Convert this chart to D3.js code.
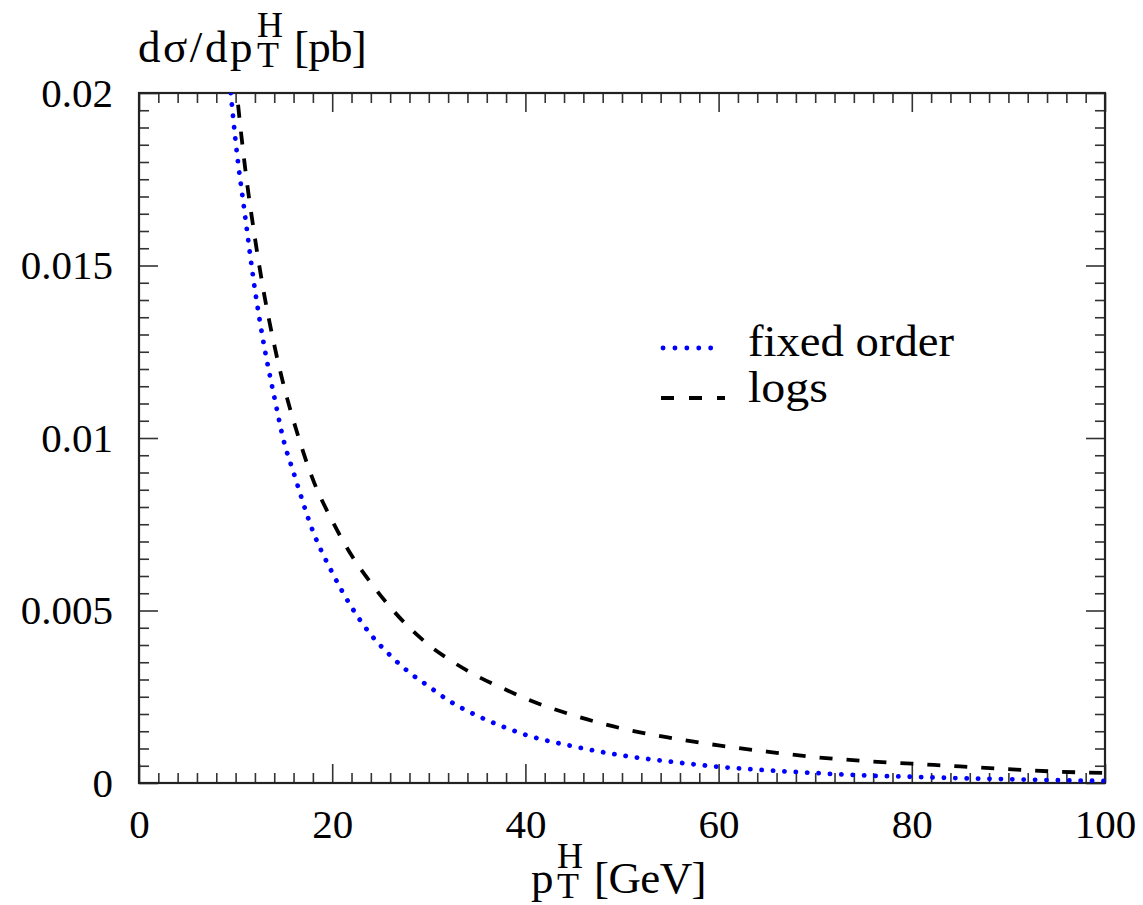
<!DOCTYPE html>
<html><head><meta charset="utf-8">
<script src="https://cdn.jsdelivr.net/npm/d3@7/dist/d3.min.js"></script>
<style>
body{margin:0;background:#fff;}
svg{display:block;}
text{font-family:"Liberation Serif","Times New Roman",serif;fill:#000;}
</style>
</head><body>
<svg id="c" width="1143" height="905"></svg>
<script>
// ---- data ----
const pT = [9.5,10,11,12,13,14,15,16,18,20,22,24,26,28,30,32,35,38,40,45,50,55,60,65,70,75,80,85,90,95,100];
const fixedOrder = [0.0200,0.0186,0.0164,0.0143,0.0126,0.0112,0.0099,0.0090,0.0073,0.0061,0.0051,0.0043,0.0037,0.0032,0.0028,0.0024,0.00195,0.0016,0.0014,0.00106,0.00080,0.00062,0.00047,0.00037,0.00029,0.00022,0.00018,0.00014,0.00011,0.00008,0.00006];
const logs = [0.0220,0.0204,0.0178,0.0158,0.0141,0.0127,0.0115,0.0105,0.0088,0.0076,0.0066,0.0058,0.0051,0.0045,0.0040,0.0036,0.0031,0.0027,0.00245,0.00196,0.00158,0.00131,0.00109,0.00091,0.00075,0.00064,0.00056,0.00048,0.00040,0.00033,0.00029];
const seriesNames = ["fixed order","logs"];
const xTicks = [0,20,40,60,80,100];
const xTickLabels = ["0","20","40","60","80","100"];
const yTicks = [0,0.005,0.01,0.015,0.02];
const yTickLabels = ["0","0.005","0.01","0.015","0.02"];

// ---- layout ----
const L=139, R=1105, T=93, B=783;
const svg = d3.select("#c");
const x = d3.scaleLinear().domain([0,100]).range([L,R]);
const y = d3.scaleLinear().domain([0,0.02]).range([B,T]);

const xMinor = d3.range(0,101,2).filter(v=>v%20!==0);
const yMinor = d3.range(0,41,1).map(i=>i*0.0005).filter((v,i)=>i%10!==0);

function styleAxis(g){
  g.select(".domain").remove();
  g.selectAll(".tick line").attr("stroke","#333").attr("stroke-width",1.6);
  g.selectAll("text").style("font-family",'"Liberation Serif","Times New Roman",serif').style("font-size","41px").attr("fill","#000");
}
// bottom
svg.append("g").attr("transform",`translate(0,${B})`)
  .call(d3.axisBottom(x).tickValues(xTicks).tickSize(-19).tickPadding(26).tickFormat((d,i)=>xTickLabels[i]))
  .call(styleAxis);
svg.append("g").attr("transform",`translate(0,${B})`)
  .call(d3.axisBottom(x).tickValues(xMinor).tickSize(-10).tickFormat(""))
  .call(styleAxis);
// top
svg.append("g").attr("transform",`translate(0,${T})`)
  .call(d3.axisTop(x).tickValues(xTicks).tickSize(-19).tickFormat(""))
  .call(styleAxis);
svg.append("g").attr("transform",`translate(0,${T})`)
  .call(d3.axisTop(x).tickValues(xMinor).tickSize(-10).tickFormat(""))
  .call(styleAxis);
// left
svg.append("g").attr("transform",`translate(${L},0)`)
  .call(d3.axisLeft(y).tickValues(yTicks).tickSize(-19).tickPadding(26).tickFormat((d,i)=>yTickLabels[i]))
  .call(styleAxis);
svg.append("g").attr("transform",`translate(${L},0)`)
  .call(d3.axisLeft(y).tickValues(yMinor).tickSize(-10).tickFormat(""))
  .call(styleAxis);
// right
svg.append("g").attr("transform",`translate(${R},0)`)
  .call(d3.axisRight(y).tickValues(yTicks).tickSize(-19).tickFormat(""))
  .call(styleAxis);
svg.append("g").attr("transform",`translate(${R},0)`)
  .call(d3.axisRight(y).tickValues(yMinor).tickSize(-10).tickFormat(""))
  .call(styleAxis);

// frame
svg.append("rect").attr("x",L).attr("y",T).attr("width",R-L).attr("height",B-T)
  .attr("fill","none").attr("stroke","#222").attr("stroke-width",2.2);

// clip
svg.append("clipPath").attr("id","clip").append("rect")
  .attr("x",L).attr("y",T).attr("width",R-L).attr("height",B-T);

const line = d3.line().x(d=>x(d[0])).y(d=>y(d[1])).curve(d3.curveMonotoneX);
const blueData = pT.map((p,i)=>[p,fixedOrder[i]]);
const blackData = pT.map((p,i)=>[p,logs[i]]);

svg.append("path").attr("clip-path","url(#clip)").attr("d",line(blackData))
  .attr("fill","none").attr("stroke","#000").attr("stroke-width",3.8)
  .attr("stroke-dasharray","13,14");
svg.append("path").attr("clip-path","url(#clip)").attr("d",line(blueData))
  .attr("fill","none").attr("stroke","#0000ff").attr("stroke-width",4.8)
  .attr("stroke-linecap","round").attr("stroke-dasharray","0.1,11.3");

// legend
const lg = svg.append("g");
lg.append("line").attr("x1",663).attr("x2",722).attr("y1",348).attr("y2",348)
  .attr("stroke","#0000ff").attr("stroke-width",4.8).attr("stroke-linecap","round").attr("stroke-dasharray","0.1,11.8");
lg.append("text").attr("x",748).attr("y",356).attr("textLength",206).attr("lengthAdjust","spacingAndGlyphs")
  .style("font-size","45px").text(seriesNames[0]);
lg.append("line").attr("x1",661).attr("x2",725).attr("y1",398).attr("y2",398)
  .attr("stroke","#000").attr("stroke-width",3.8).attr("stroke-dasharray","13,15");
lg.append("text").attr("x",748).attr("y",402).attr("textLength",80).attr("lengthAdjust","spacingAndGlyphs")
  .style("font-size","45px").text(seriesNames[1]);

// measure helper
function measure(str, size){
  const t = svg.append("text").style("font-size",size+"px").text(str);
  const w = t.node().getComputedTextLength();
  t.remove();
  return w;
}
// composite labels with stacked sub/superscript, as one text element
function label(x0, base, pre, preLen, sup, sub, post, postLen, size){
  const s = size*0.8;
  const wPre = measure(pre, size), wPost = measure(post, size);
  const lsPre = (preLen - wPre)/pre.length, lsPost = (postLen - wPost)/post.length;
  const xs = x0 + preLen + 2;
  const w2 = Math.max(measure(sup, s), measure(sub, s));
  const xp = xs + w2 + 11;
  const t = svg.append("text").style("font-size",size+"px");
  t.append("tspan").attr("x",x0).attr("y",base).style("letter-spacing",lsPre+"px").text(pre);
  t.append("tspan").attr("x",xs).attr("y",base-25).style("font-size",s+"px").text(sup);
  t.append("tspan").attr("x",xs).attr("y",base+5).style("font-size",s+"px").text(sub);
  t.append("tspan").attr("x",xp).attr("y",base).style("letter-spacing",lsPost+"px").text(post);
}
label(138, 62, "dσ/dp", 117, "H", "T", "[pb]", 72, 45);
label(531, 893, "p", 24, "H", "T", "[GeV]", 112, 45);
</script>
</body></html>
